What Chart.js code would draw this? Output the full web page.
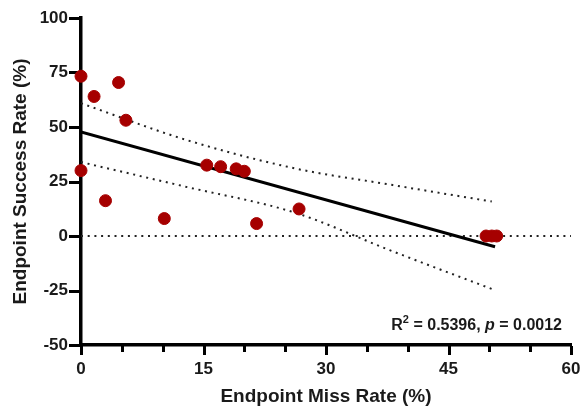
<!DOCTYPE html>
<html>
<head>
<meta charset="utf-8">
<script src="https://cdn.jsdelivr.net/npm/chart.js@4.4.1/dist/chart.umd.min.js"></script>
<style>
  html, body { margin: 0; padding: 0; background: #fff; }
  #wrap { width: 584px; height: 409px; }
</style>
</head>
<body>
<div id="wrap"><canvas id="missChart"></canvas></div>
<script>
// Endpoint miss rate vs. endpoint success rate, one point per subject
var missRate    = [0, 1.6, 4.6, 5.5, 0, 3.0, 10.2, 15.4, 17.1, 19.0, 20.0, 21.5, 26.7, 49.6, 50.3, 50.9];
var successRate = [73.3, 64.0, 70.4, 53.1, 30.0, 16.2, 8.0, 32.5, 31.8, 30.8, 29.7, 5.7, 12.4, 0, 0, 0];

// linear fit and 95% confidence band
var fitX   = [0, 50.7];
var fitY   = [47.7, -4.9];
var bandX  = [0, 12.7, 26.2, 37.8, 50.3];
var upperY = [60.9, 44.3, 31.0, 23.6, 15.8];
var lowerY = [33.9, 22.7, 10.7, -6.5, -24.3];

var xTicks = [0, 15, 30, 45, 60];
var xMinorTicks = [5, 10, 20, 25, 35, 40, 50, 55];
var yTicks = [-50, -25, 0, 25, 50, 75, 100];

var statText = { r2: '0.5396', p: '0.0012' };

function pairs(xs, ys) {
  return xs.map(function(x, i) { return { x: x, y: ys[i] }; });
}

var fontFamily = 'Arial, "Liberation Sans", sans-serif';

// tick marks: long ones at labelled values, short ones in between on x
var tickMarks = {
  id: 'tickMarks',
  beforeDatasetsDraw: function(chart) {
    var ctx = chart.ctx;
    var area = chart.chartArea;
    var sx = chart.scales.x, sy = chart.scales.y;
    ctx.save();
    ctx.strokeStyle = '#000';
    ctx.lineWidth = 3;
    ctx.beginPath();
    yTicks.forEach(function(v) {
      var py = Math.round(sy.getPixelForValue(v)) + 0.5;
      ctx.moveTo(area.left - 1, py);
      ctx.lineTo(area.left - 12, py);
    });
    xTicks.forEach(function(v) {
      var px = Math.round(sx.getPixelForValue(v)) + 0.5;
      ctx.moveTo(px, area.bottom + 1);
      ctx.lineTo(px, area.bottom + 10);
    });
    xMinorTicks.forEach(function(v) {
      var px = Math.round(sx.getPixelForValue(v)) + 0.5;
      ctx.moveTo(px, area.bottom + 1);
      ctx.lineTo(px, area.bottom + 7);
    });
    ctx.stroke();
    ctx.restore();
  }
};

// R² / p annotation in the lower right corner
var statsLabel = {
  id: 'statsLabel',
  afterDraw: function(chart) {
    var ctx = chart.ctx;
    var area = chart.chartArea;
    var big = 'bold 16px ' + fontFamily;
    var small = 'bold 11px ' + fontFamily;
    var ital = 'italic bold 16px ' + fontFamily;
    var parts = [
      { t: 'R', f: big, dy: 0 },
      { t: '2', f: small, dy: -7 },
      { t: ' = ' + statText.r2 + ', ', f: big, dy: 0 },
      { t: 'p', f: ital, dy: 0 },
      { t: ' = ' + statText.p, f: big, dy: 0 }
    ];
    ctx.save();
    var total = 0;
    parts.forEach(function(p) { ctx.font = p.f; p.w = ctx.measureText(p.t).width; total += p.w; });
    var x = area.right - 9 - total;
    var y = area.bottom - 15;
    ctx.fillStyle = '#1a1a1a';
    ctx.textBaseline = 'alphabetic';
    parts.forEach(function(p) {
      ctx.font = p.f;
      ctx.fillText(p.t, x, y + p.dy);
      x += p.w;
    });
    ctx.restore();
  }
};

var ctx = document.getElementById('missChart').getContext('2d');
new Chart(ctx, {
  type: 'scatter',
  data: {
    datasets: [
      {
        data: pairs(missRate, successRate),
        backgroundColor: '#a60000',
        borderColor: '#a60000',
        borderWidth: 1,
        pointRadius: 6,
        clip: false
      },
      {
        data: pairs(fitX, fitY),
        showLine: true,
        borderColor: '#000',
        borderWidth: 3,
        pointRadius: 0
      },
      {
        data: pairs(bandX, upperY),
        showLine: true,
        borderColor: '#222',
        borderWidth: 2,
        borderDash: [2, 4.7],
        cubicInterpolationMode: 'monotone',
        pointRadius: 0
      },
      {
        data: pairs(bandX, lowerY),
        showLine: true,
        borderColor: '#222',
        borderWidth: 2,
        borderDash: [2, 4.7],
        cubicInterpolationMode: 'monotone',
        pointRadius: 0
      },
      {
        data: [{ x: 0, y: 0 }, { x: 60, y: 0 }],
        showLine: true,
        borderColor: '#222',
        borderWidth: 2,
        borderDash: [2, 4.7],
        pointRadius: 0
      }
    ]
  },
  options: {
    responsive: true,
    maintainAspectRatio: false,
    animation: false,
    layout: { padding: { top: 18, right: 13, left: 0, bottom: 0 } },
    plugins: {
      legend: { display: false },
      tooltip: { enabled: false }
    },
    scales: {
      x: {
        type: 'linear',
        min: 0,
        max: 60,
        afterFit: function(scale) {
          scale.height = 64;
          scale.paddingLeft = 0;
          scale.paddingRight = 0;
        },
        afterBuildTicks: function(scale) {
          scale.ticks = xTicks.map(function(v) { return { value: v }; });
        },
        ticks: {
          padding: 14,
          color: '#1a1a1a',
          font: { family: fontFamily, size: 17, weight: 'bold' }
        },
        grid: { drawOnChartArea: false, drawTicks: false },
        border: { display: true, width: 3.5, color: '#000' },
        title: {
          display: true,
          text: 'Endpoint Miss Rate (%)',
          color: '#1a1a1a',
          font: { family: fontFamily, size: 19, weight: 'bold' },
          padding: { top: 0, bottom: 1 }
        }
      },
      y: {
        type: 'linear',
        min: -50,
        max: 100,
        afterFit: function(scale) {
          scale.width = 81;
          scale.paddingTop = 0;
          scale.paddingBottom = 0;
        },
        afterBuildTicks: function(scale) {
          scale.ticks = yTicks.map(function(v) { return { value: v }; });
        },
        ticks: {
          padding: 13,
          color: '#1a1a1a',
          font: { family: fontFamily, size: 17, weight: 'bold' }
        },
        grid: { drawOnChartArea: false, drawTicks: false },
        border: { display: true, width: 3.5, color: '#000' },
        title: {
          display: true,
          text: 'Endpoint Success Rate (%)',
          color: '#1a1a1a',
          font: { family: fontFamily, size: 19, weight: 'bold' },
          padding: { top: 9, bottom: 0 }
        }
      }
    }
  },
  plugins: [tickMarks, statsLabel]
});
</script>
</body>
</html>
